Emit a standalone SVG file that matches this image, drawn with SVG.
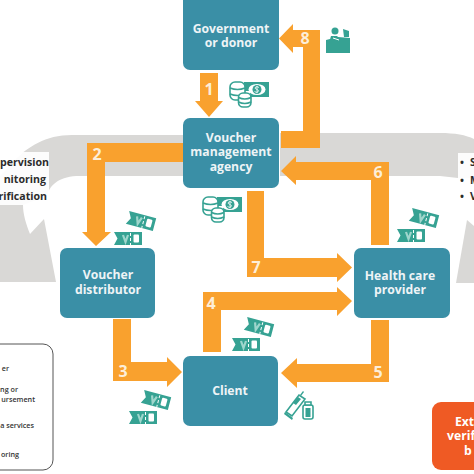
<svg xmlns="http://www.w3.org/2000/svg" width="474" height="474" viewBox="0 0 474 474">
<defs>
<style>
.n{fill:#3a8fa6}
.a{fill:#f9a12e}
.g{fill:#d9d8d6}
.t{font-family:"Open Sans","Liberation Sans",sans-serif;font-weight:700;font-size:12.2px;fill:#eef4f6;text-anchor:middle}
.e{font-family:"Open Sans","Liberation Sans",sans-serif;font-weight:700;font-size:12.2px;fill:#fff}
.l{font-family:"Open Sans","Liberation Sans",sans-serif;font-weight:700;font-size:16px;fill:#fdeed8;text-anchor:middle}
.s{font-family:"Open Sans","Liberation Sans",sans-serif;font-weight:700;font-size:10.6px;fill:#2c2c2c}
.sr{text-anchor:end}
.k{font-family:"Open Sans","Liberation Sans",sans-serif;font-weight:600;font-size:7.2px;fill:#333;text-anchor:end}
.i{fill:#36a293}
.o{fill:none;stroke:#36a293;stroke-width:1.6}
.c{fill:#fff;stroke:#36a293;stroke-width:1.6}
</style>
<g id="v"><path class="i" d="M0 0H28V13H0l3.500-6.500z"/><rect x="19.500" y="2.500" width="5.500" height="8" rx="1" fill="#fff"/><path d="M9 3l2.500 7 2.500-7" fill="none" stroke="#9fd6cc" stroke-width="2.200"/><path d="M16.500 1v3M16.500 6v3M16.500 11v2" stroke="#fff" stroke-width="1"/></g>
<g id="vv"><use href="#v" transform="translate(27 9) rotate(15) translate(-14 -6.500)"/><use href="#v" transform="translate(0 20)"/></g>
<g id="cash"><path class="i" d="M15 1H40V16H21V10H15z"/><ellipse cx="28" cy="8.500" rx="8.500" ry="5.500" fill="#fff"/><circle cx="28" cy="8.500" r="4.500" class="i"/><path d="M30 6.500q-2-1.500-3.500-.3t1.500 2.300q2.500 1 1 2.300t-3.500-.3M28 4.800v7.400" fill="none" stroke="#fff" stroke-width=".8"/><rect x="1" y="1" width="15" height="18" rx="5" class="c"/><path class="o" d="M1 7q7.500 3 15 0M1 13q7.500 3 15 0"/><rect x="9.500" y="12" width="12.500" height="14" rx="4.500" class="c"/><path class="o" d="M9.500 16.500q6.250 3 12.500 0M9.500 21q6.250 3 12.500 0"/></g>
</defs>
<rect width="474" height="474" fill="#fff"/>
<g id="supervision-loop">
<path class="g" d="M183 135H72C45 135 28 147 15 160L0 176V282H56L44 219 30 234C26 224 23 214 23 205L47 196C50 184 60 176 80 176H183z"/>
<rect x="0" y="152" width="49" height="53" fill="#fff" opacity=".92"/>
<path class="g" d="M280 133H440C455 133 466 135 474 139V178H458L440 176H280z"/>
<rect x="458" y="153" width="16" height="52" fill="#fff" opacity=".92"/>
<path class="g" d="M456 283L467 220 474 226V283z"/>
</g>
<g id="connectors">
<path class="a" d="M200 73H218V101H223L209 117 195 101H200z"/>
<path class="a" d="M281 131H303V47H293V53L279 38.500 293 24V30H320V148H281z"/>
<path class="a" d="M183 143H87V232H82L96 246 111 232H105V162H183z"/>
<path class="a" d="M113 319H131V362H167V357L182 372 167 387V381H113z"/>
<path class="a" d="M203 352V292H337V287L352 301 337 316V310H221V352z"/>
<path class="a" d="M389 320V382H297V388L281 373 297 358V364H371V320z"/>
<path class="a" d="M371 245V180H296V185L281 171 296 156V162H389V245z"/>
<path class="a" d="M247 191H264V258H337V253L352 267.500 337 282V277H247z"/>
</g>
<g class="labels">
<text class="l" x="209" y="95">1</text>
<text class="l" x="97" y="160">2</text>
<text class="l" x="123" y="377">3</text>
<text class="l" x="211" y="309">4</text>
<text class="l" x="378" y="378">5</text>
<text class="l" x="378" y="178">6</text>
<text class="l" x="256" y="273">7</text>
<text class="l" x="305" y="44">8</text>
</g>
<g id="government"><rect class="n" x="183" y="-12" width="96" height="82" rx="7"/><text class="t" x="231" y="33">Government</text><text class="t" x="231" y="47">or donor</text></g>
<g id="agency"><rect class="n" x="183" y="118" width="96" height="70" rx="7"/><text class="t" x="231" y="141.500">Voucher</text><text class="t" x="231" y="156">management</text><text class="t" x="231" y="171">agency</text></g>
<g id="distributor"><rect class="n" x="60" y="248" width="95" height="70" rx="7"/><text class="t" x="108" y="279">Voucher</text><text class="t" x="108" y="294">distributor</text></g>
<g id="provider"><rect class="n" x="354" y="248" width="96" height="70" rx="7"/><text class="t" x="400" y="280">Health care</text><text class="t" x="400" y="294">provider</text></g>
<g id="client"><rect class="n" x="183" y="356" width="95" height="70" rx="7"/><text class="t" x="230" y="395">Client</text></g>
<g id="verification"><path d="M474 402H441a9 9 0 0 0-9 9V461a9 9 0 0 0 9 9H474z" fill="#ef5a24"/><text class="e" x="455" y="426">Ext</text><text class="e" x="447" y="440">verif</text><text class="e" x="464" y="455">b</text></g>
<g id="legend"><path d="M-2 344H43a10 10 0 0 1 10 10V460a10 10 0 0 1-10 10H-2" fill="#fff" stroke="#555" stroke-width="1"/>
<text class="k" x="9" y="371">er</text><text class="k" x="18" y="392">ng or</text><text class="k" x="35" y="402">ursement</text><text class="k" x="34" y="428">a services</text><text class="k" x="19" y="457">oring</text></g>
<g id="left-list"><text class="s sr" x="49" y="166">pervision</text><text class="s sr" x="46" y="183">nitoring</text><text class="s sr" x="47" y="200">rification</text></g>
<g id="right-list"><text class="s" x="460" y="166">•<tspan x="470">S</tspan></text><text class="s" x="460" y="184">•<tspan x="470">M</tspan></text><text class="s" x="460" y="200">•<tspan x="470">V</tspan></text></g>
<g id="icons">
<use href="#vv" transform="translate(114 212)"/>
<use href="#vv" transform="translate(397 209)"/>
<use href="#vv" transform="translate(232 318)"/>
<use href="#vv" transform="translate(129 391)"/>
<use href="#cash" transform="translate(229 81)"/>
<use href="#cash" transform="translate(202 196)"/>
<g id="monitor"><path class="i" d="M326 40L338 37 350 38V53H326z"/><circle cx="335" cy="31" r="3.500" class="i"/><path class="i" d="M331 36h6l4 4-3 3h-9z"/><path class="i" d="M343 29l6 2v6h-5z"/><path d="M333 38l6 2" stroke="#fff" stroke-width="1"/></g>
<g id="medicine"><path class="c" d="M286 412l13-17 6 4-13 17z"/><path class="i" d="M293 403l5-6 3 2-5 6zM284 414l8 6 1-2-8-6zM300 395l3-4 1 1-3 4z"/><rect x="303" y="405" width="10" height="14" rx="2" class="c"/><path class="c" d="M305 402h6v3h-6z"/><rect x="305.500" y="408" width="5" height="9" class="i"/></g>
</g>
</svg>
